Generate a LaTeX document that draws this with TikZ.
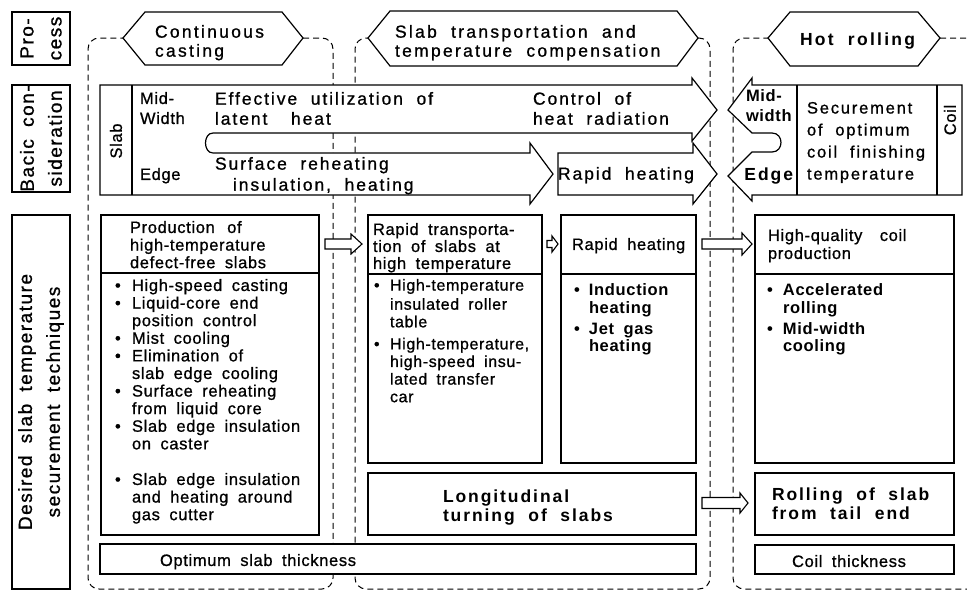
\documentclass[tikz,border=0pt]{standalone}
\usepackage{fontspec}
\setmainfont{Liberation Sans}[LetterSpace=4,WordSpace=1.8,UprightFeatures={FakeBold=0.9}]
\newfontfamily\widef{Liberation Sans}[LetterSpace=11,WordSpace=2,UprightFeatures={FakeBold=0.9}]
\newfontfamily\hexf{Liberation Sans}[LetterSpace=13,WordSpace=2,UprightFeatures={FakeBold=0.9}]
\newfontfamily\lblf{Liberation Sans}[LetterSpace=8,WordSpace=1.8,UprightFeatures={FakeBold=0.9}]
\usetikzlibrary{calc}
\newcommand\fbody{\fontsize{16.5}{17.6}\selectfont}
\newcommand\fmid{\widef\fontsize{17.5}{20}\selectfont}
\newcommand\fhex{\hexf\fontsize{17.5}{19}\selectfont}
\newcommand\flbl{\lblf\fontsize{19}{28}\selectfont}
\newcommand\bul{\makebox[17pt][l]{\textbullet}}
\newcommand\bulb{\makebox[16pt][l]{\textbullet}}
\newcommand\indt{\hspace*{17pt}}
\newcommand\indtb{\hspace*{16pt}}
\newcommand\hollowarrow[5]{%
  \draw[hollow] ($(#1)+(0,-#3)$) -- ($(#2)+(-#5,-#3)$) -- ($(#2)+(-#5,-#4)$) -- (#2)
    -- ($(#2)+(-#5,#4)$) -- ($(#2)+(-#5,#3)$) -- ($(#1)+(0,#3)$) -- cycle;}
\begin{document}
\begin{tikzpicture}[x=1pt,y=-1pt,
  ln/.style={line width=1.2pt},
  boxst/.style={draw, line width=1.2pt, fill=white, inner sep=0pt, outer sep=0pt, anchor=north west},
  regdash/.style={line width=1pt, dash pattern=on 6pt off 4pt, rounded corners=11pt},
  txt/.style={inner sep=0pt, outer sep=0pt, anchor=north west, align=left},
  rot/.style={inner sep=0pt, outer sep=0pt, rotate=90, align=center},
  hollow/.style={line width=1.1pt, fill=white, line join=miter},
]
\useasboundingbox (0,0) rectangle (967,592);
\clip (0,0) rectangle (967,592);

% process hexagon end points
\coordinate (h1w) at (123,38); \coordinate (h1e) at (303,38);
\coordinate (h2w) at (368,38); \coordinate (h2e) at (698,38);
\coordinate (h3w) at (768,38); \coordinate (h3e) at (940,38);

% dashed process regions
\draw[regdash] (h1e) -- (333,38) -- (333,589) -- (88,589) -- (88,38) -- (h1w);
\draw[regdash] (h2e) -- (710,38) -- (710,589) -- (355,589) -- (355,38) -- (h2w);
\draw[regdash] (h3e) -- (990,38) -- (990,589) -- (733,589) -- (733,38) -- (h3w);

% hexagons
\draw[ln, fill=white] (h1w) -- (145,12) -- (282,12) -- (h1e) -- (282,65) -- (145,65) -- cycle;
\draw[ln, fill=white] (h2w) -- (390,11) -- (677,11) -- (h2e) -- (677,66) -- (390,66) -- cycle;
\draw[ln, fill=white] (h3w) -- (790,12) -- (918,12) -- (h3e) -- (918,66) -- (790,66) -- cycle;
\node[txt, font=\fhex] (tcc) at (155,25) {Continuous\\casting};
\node[txt, font=\fhex] (tst) at (395,25) {Slab transportation and\\temperature compensation};
\node[txt, font=\fhex\bfseries] (thr) at (800,33) {Hot rolling};

% left labels
\node[boxst, minimum width=58pt, minimum height=53pt] (lp) at (12,12) {};
\node[rot, font=\flbl] (lpt) at (lp.center) {Pro-\\cess};
\node[boxst, minimum width=58pt, minimum height=107pt] (lb) at (12,85) {};
\node[rot, font=\flbl] (lbt) at (lb.center) {Bacic con-\\sideration};
\node[boxst, minimum width=58pt, minimum height=374pt] (ld) at (12,215) {};
\node[rot, font=\flbl] (ldt) at (ld.center) {Desired slab temperature\\securement techniques};

% basic consideration row: slab arrows
\draw[ln, fill=white] (100,85) -- (692,85) -- (692,78) -- (717,110) -- (692,141) -- (692,133)
  -- (213,133) .. controls (203,133) and (203,153) .. (213,153) -- (530,153) -- (530,143)
  -- (553,174) -- (530,204) -- (530,195) -- (100,195) -- cycle;
\draw[ln] (132,85) -- (132,195);
\draw[ln, fill=white] (558,153) -- (693,153) -- (693,143) -- (717,174) -- (693,204) -- (693,195) -- (558,195) -- cycle;
% hot rolling arrows / coil box
\draw[ln, fill=white] (962,85) -- (752,85) -- (752,78) -- (728,110) -- (752,133) -- (772,133)
  .. controls (784,133) and (784,152) .. (772,152) -- (752,152) -- (728,176) -- (752,201)
  -- (752,195) -- (962,195) -- cycle;
\draw[ln] (797,85) -- (797,195);
\draw[ln] (937,85) -- (937,195);

\node[rot, font=\fbody] (slab) at (116,141) {Slab};
\node[txt, font={\fontsize{16.5}{20}\selectfont}] (mw) at (140,92) {Mid-\\Width};
\node[txt, font=\fbody] (edg) at (140,168) {Edge};
\node[txt, font=\fmid] (eff) at (215,92) {Effective utilization of\\latent\hspace{10pt} heat};
\node[txt, font=\fmid] (ctl) at (533,92) {Control of\\heat radiation};
\node[txt, font={\widef\fontsize{17.5}{21}\selectfont}] (srf) at (215,157) {Surface reheating\\\hspace*{18pt}insulation, heating};
\node[txt, anchor=north, font=\fmid] (rh1) at (626,167) {Rapid heating};
\node[txt, font={\fontsize{16.5}{20}\selectfont\bfseries}] (mw2) at (746,90) {Mid-\\width};
\node[txt, anchor=north east, font=\fmid\bfseries] (edg2) at (793,168) {Edge};
\node[txt, font={\widef\fontsize{16.5}{22}\selectfont}] (sec) at (807,102) {Securement\\of optimum\\coil finishing\\temperature};
\node[rot, font=\fbody] (coil) at (950,120) {Coil};

% desired techniques row
\node[boxst, minimum width=218pt, minimum height=320pt] (A) at (101,215) {};
\draw[ln] (101,273) -- (319,273);
\node[txt, font=\fbody] (Ah) at (130,221) {Production\hspace{3pt} of\\high-temperature\\defect-free slabs};
\node[txt, font=\fbody] (Ab) at (115,279) {\bul High-speed casting\\
\bul Liquid-core end\\
\indt position control\\
\bul Mist cooling\\
\bul Elimination of\\
\indt slab edge cooling\\
\bul Surface reheating\\
\indt from liquid core\\
\bul Slab edge insulation\\
\indt on caster\\[18pt]
\bul Slab edge insulation\\
\indt and heating around\\
\indt gas cutter};

\node[boxst, minimum width=174pt, minimum height=248pt] (B1) at (368,215) {};
\draw[ln] (368,274) -- (542,274);
\node[txt, font={\fontsize{16.5}{17}\selectfont}] (B1h) at (373,223) {Rapid transporta-\\tion of slabs at\\high temperature};
\node[txt, font={\fontsize{16}{17.6}\selectfont}] (B1b) at (374,279) {\bulb High-temperature\\[1.5pt]
\indtb insulated roller\\
\indtb table\\[4.5pt]
\bulb High-temperature,\\
\indtb high-speed insu-\\
\indtb lated transfer\\
\indtb car};

\node[boxst, minimum width=135pt, minimum height=248pt] (B2) at (561,215) {};
\draw[ln] (561,274) -- (696,274);
\node[txt, font=\fbody] (B2h) at (572,238) {Rapid heating};
\node[txt, font=\fbody\bfseries] (B2b) at (574,284) {\makebox[15pt][l]{\textbullet}Induction\\
\hspace*{15pt}heating\\[3pt]
\makebox[15pt][l]{\textbullet}Jet gas\\
\hspace*{15pt}heating};

\node[boxst, minimum width=199pt, minimum height=248pt] (C) at (755,215) {};
\draw[ln] (755,274) -- (954,274);
\node[txt, font={\fontsize{16.5}{18}\selectfont}] (Ch) at (768,229) {High-quality\hspace{8pt} coil\\production};
\node[txt, font=\fbody\bfseries] (Cb) at (767,284) {\makebox[16pt][l]{\textbullet}Accelerated\\
\hspace*{16pt}rolling\\[3pt]
\makebox[16pt][l]{\textbullet}Mid-width\\
\hspace*{16pt}cooling};

\node[boxst, minimum width=328pt, minimum height=62pt] (L) at (368,473) {};
\node[txt, font={\widef\fontsize{17.5}{18.5}\selectfont\bfseries}] (Lt) at (443,490) {Longitudinal\\turning of slabs};
\node[boxst, minimum width=199pt, minimum height=62pt] (R) at (755,473) {};
\node[txt, font={\widef\fontsize{17.5}{19}\selectfont\bfseries}] (Rt) at (772,488) {Rolling of slab\\from tail end};
\node[boxst, minimum width=596pt, minimum height=30pt] (O) at (100,544) {};
\node[txt, font=\fbody] (Ot) at (160,554) {Optimum slab thickness};
\node[boxst, minimum width=199pt, minimum height=29pt] (CT) at (755,545) {};
\node[txt, anchor=north, font=\fbody] (CTt) at (849,555) {Coil thickness};

% hollow block arrows
\coordinate (a1s) at ($(A.north east)+(6,29)$);
\coordinate (a1e) at ($(B1.north west)+(-6,29)$);
\hollowarrow{a1s}{a1e}{5}{10}{11}
\coordinate (b1s) at ($(B1.north east)+(5,29)$);
\coordinate (b1e) at ($(B2.north west)+(-3,29)$);
\hollowarrow{b1s}{b1e}{3.5}{8}{6}
\coordinate (b2s) at ($(B2.north east)+(6,29)$);
\coordinate (b2e) at ($(C.north west)+(-3,29)$);
\hollowarrow{b2s}{b2e}{5}{11}{10}
\coordinate (lrs) at ($(L.east)+(6,-1)$);
\coordinate (lre) at ($(R.west)+(-7,-1)$);
\hollowarrow{lrs}{lre}{5.5}{10}{8}
\end{tikzpicture}
\end{document}
